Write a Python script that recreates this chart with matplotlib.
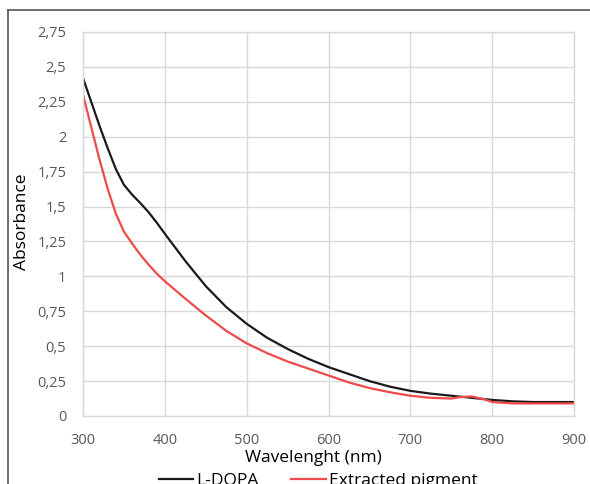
import matplotlib.pyplot as plt
from matplotlib.lines import Line2D

# wavelength (nm) and absorbance
wl_dopa = [300, 310, 320, 330, 340, 350, 360, 370, 380, 390, 400, 425, 450, 475,
           500, 525, 550, 575, 600, 625, 650, 675, 700, 725, 750, 775, 800, 825,
           850, 900]
abs_dopa = [2.42, 2.25, 2.08, 1.92, 1.77, 1.655, 1.585, 1.525, 1.46, 1.385, 1.305,
            1.11, 0.93, 0.78, 0.66, 0.56, 0.48, 0.41, 0.35, 0.30, 0.25, 0.21,
            0.18, 0.16, 0.145, 0.13, 0.115, 0.105, 0.10, 0.10]

wl_pig = [300, 310, 320, 330, 340, 350, 360, 370, 380, 390, 400, 425, 450, 475,
          500, 525, 550, 575, 600, 625, 650, 675, 700, 725, 750, 760, 775, 790,
          800, 825, 850, 900]
abs_pig = [2.30, 2.07, 1.84, 1.63, 1.45, 1.32, 1.235, 1.155, 1.085, 1.02, 0.965,
           0.84, 0.72, 0.61, 0.52, 0.45, 0.39, 0.34, 0.29, 0.24, 0.20, 0.17,
           0.145, 0.13, 0.125, 0.135, 0.14, 0.12, 0.10, 0.09, 0.09, 0.09]

xticks = [300, 400, 500, 600, 700, 800, 900]
yticks = [0, 0.25, 0.5, 0.75, 1, 1.25, 1.5, 1.75, 2, 2.25, 2.5, 2.75]
ytick_labels = ["0", "0,25", "0,5", "0,75", "1", "1,25", "1,5", "1,75", "2",
                "2,25", "2,5", "2,75"]

plt.rcParams['font.family'] = ['Open Sans', 'DejaVu Sans']

fig = plt.figure(figsize=(5.9, 4.84), dpi=100)
ax = fig.add_axes([0.1407, 0.1405, 0.8323, 0.7935])

ax.plot(wl_dopa, abs_dopa, color='#1a1a1a', lw=1.6, label='L-DOPA')
ax.plot(wl_pig, abs_pig, color='#f04a4a', lw=1.6, label='Extracted pigment')

ax.set_xlim(300, 900)
ax.set_ylim(0, 2.75)
ax.set_xticks(xticks)
ax.set_yticks(yticks)
ax.set_yticklabels(ytick_labels)
ax.grid(True, color='#d9d9d9', lw=1)
ax.set_axisbelow(True)
for sp in ax.spines.values():
    sp.set_color('#d9d9d9')
    sp.set_linewidth(1)
ax.tick_params(length=0, labelsize=10.5, colors='#595959')
ax.tick_params(axis='y', pad=12)
ax.tick_params(axis='x', pad=12)

fig.text(22 / 590, 1 - 222 / 484, 'Absorbance', rotation=90, ha='center',
         va='center', fontsize=12.5)
fig.text(313 / 590, 1 - 458 / 484, 'Wavelenght (nm)', ha='center',
         va='center', fontsize=12.5)

# legend sits at the bottom edge, partly cut off as in the source image
fig.legend(loc='center', bbox_to_anchor=(318 / 590, 1 - 481 / 484), ncol=2,
           frameon=False, fontsize=12.5, handlelength=2.0, handletextpad=0.15,
           columnspacing=1.9)

# outer chart frame (top and left edges visible)
fig.add_artist(Line2D([8 / 590, 8 / 590], [0, 1 - 10 / 484],
                      transform=fig.transFigure, color='#555555', lw=1.2))
fig.add_artist(Line2D([8 / 590, 1], [1 - 10 / 484, 1 - 10 / 484],
                      transform=fig.transFigure, color='#555555', lw=1.2))

fig.savefig('out.png', dpi=100)
